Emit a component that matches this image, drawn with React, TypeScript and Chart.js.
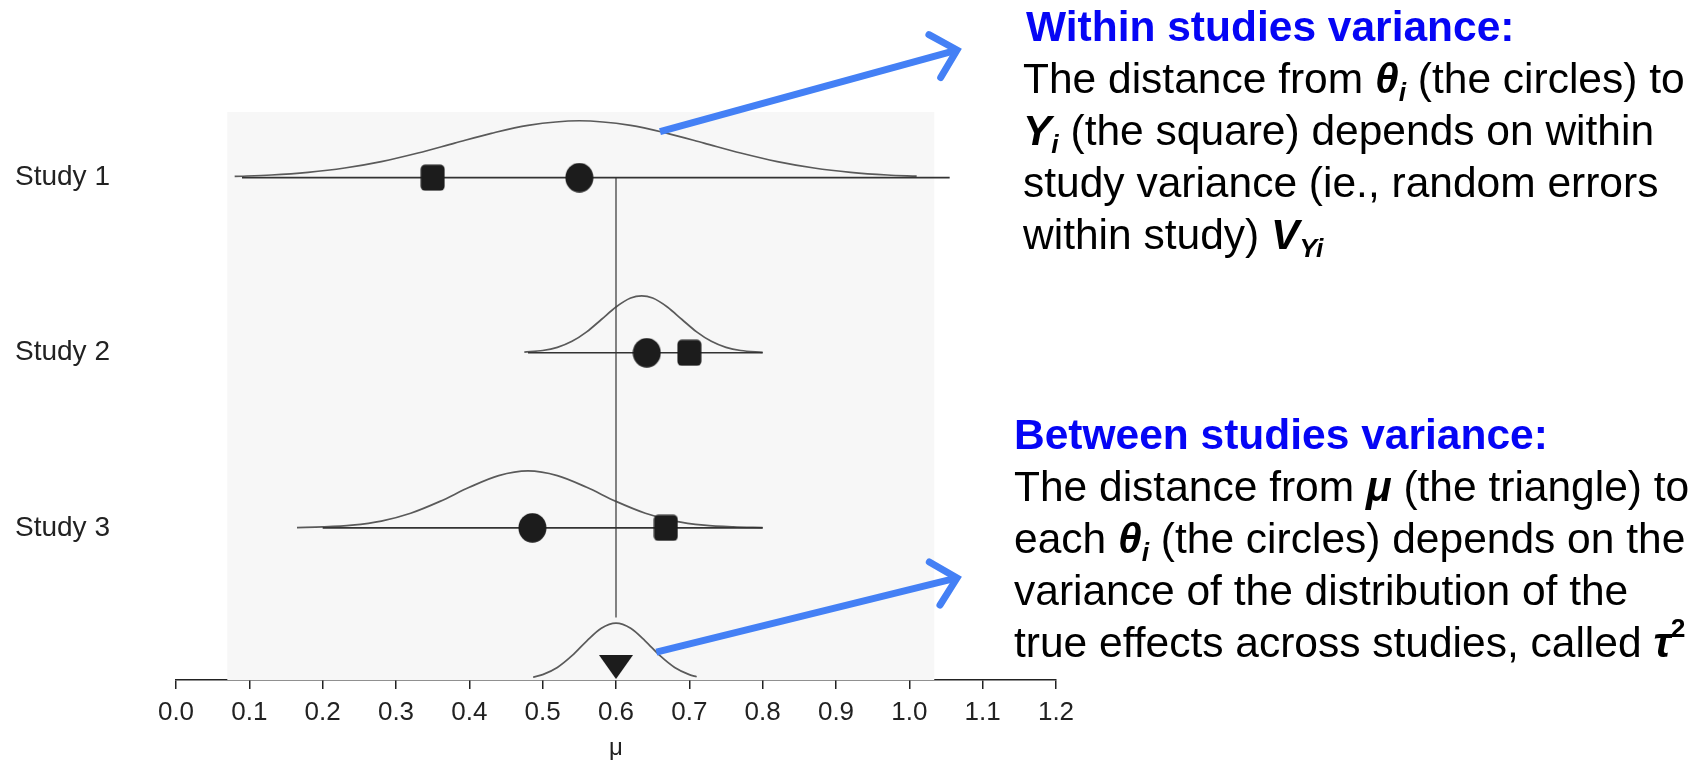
import React, { useEffect, useRef } from "react";
import { Chart, registerables } from "chart.js";

Chart.register(...registerables);

// ---------- data ----------
const studyLabels = ["Study 1", "Study 2", "Study 3"];
const studyRows = [2, 1, 0]; // row position of each study (y units)
const thetaValues = [0.55, 0.642, 0.486]; // circles (true study effects)
const yValues = [0.35, 0.70, 0.668]; // squares (observed effects)
const lineLo = [0.09, 0.48, 0.2];
const lineHi = [1.055, 0.8, 0.8];
const muValue = 0.6; // triangle

const xTicks = [0, 0.1, 0.2, 0.3, 0.4, 0.5, 0.6, 0.7, 0.8, 0.9, 1.0, 1.1, 1.2];

// density curves (x, relative height)
const curve1X = [0.08, 0.13, 0.18, 0.23, 0.28, 0.33, 0.38, 0.43, 0.48, 0.55, 0.62, 0.67, 0.72, 0.77, 0.82, 0.87, 0.92, 0.97, 1.01];
const curve1H = [0.022, 0.047, 0.094, 0.17, 0.283, 0.433, 0.607, 0.779, 0.919, 1, 0.919, 0.779, 0.607, 0.433, 0.283, 0.17, 0.094, 0.047, 0.026];
const curve2X = [0.475, 0.5, 0.52, 0.54, 0.56, 0.58, 0.6, 0.62, 0.635, 0.65, 0.67, 0.69, 0.71, 0.73, 0.75, 0.77, 0.8];
const curve2H = [0.011, 0.039, 0.095, 0.201, 0.367, 0.584, 0.804, 0.961, 1, 0.961, 0.804, 0.584, 0.367, 0.201, 0.095, 0.039, 0.008];
const curve3X = [0.165, 0.2, 0.24, 0.28, 0.32, 0.36, 0.4, 0.44, 0.48, 0.52, 0.56, 0.6, 0.64, 0.68, 0.72, 0.76, 0.8];
const curve3H = [0.005, 0.016, 0.047, 0.119, 0.257, 0.465, 0.712, 0.918, 1, 0.918, 0.712, 0.465, 0.257, 0.119, 0.047, 0.016, 0.004];
const curveMuX = [0.487, 0.5, 0.52, 0.54, 0.56, 0.58, 0.6, 0.62, 0.64, 0.66, 0.68, 0.7, 0.71];
const curveMuH = [0.049, 0.094, 0.22, 0.427, 0.685, 0.91, 1, 0.91, 0.685, 0.427, 0.22, 0.094, 0.057];

// ---------- layout constants ----------
const Y_MIN = -0.869;
const Y_MAX = 2.375;
const PEAK = 0.325;
const PANEL = [0.07, 1.034];
const INK = "#1c1c1c";
const ARROW = "#4480F5";
const FONT = "'Liberation Sans', Arial, Helvetica, sans-serif";

function makeSquare() {
  const c = document.createElement("canvas");
  c.width = 25;
  c.height = 27;
  const g = c.getContext("2d")!;
  g.fillStyle = INK;
  g.beginPath();
  (g as any).roundRect(0.5, 0.5, 24, 26, 4.5);
  g.fill();
  return c;
}
function makeCircle() {
  const c = document.createElement("canvas");
  c.width = 29;
  c.height = 30;
  const g = c.getContext("2d")!;
  g.fillStyle = INK;
  g.beginPath();
  g.ellipse(14.5, 15, 14, 14.8, 0, 0, Math.PI * 2);
  g.fill();
  return c;
}
function makeTriangle() {
  const c = document.createElement("canvas");
  c.width = 34;
  c.height = 24;
  const g = c.getContext("2d")!;
  g.fillStyle = INK;
  g.beginPath();
  g.moveTo(0, 0);
  g.lineTo(34, 0);
  g.lineTo(17, 24);
  g.closePath();
  g.fill();
  return c;
}

const curveData = (xs: number[], hs: number[], base: number) =>
  xs.map((x, i) => ({ x, y: base + hs[i] * PEAK }));

const arrowPlugin = {
  id: "arrows",
  beforeDatasetsDraw(chart: any) {
    const { ctx, chartArea, scales } = chart;
    const xs = scales.x;
    ctx.save();
    ctx.fillStyle = "#f7f7f7";
    const l = xs.getPixelForValue(PANEL[0]);
    const r = xs.getPixelForValue(PANEL[1]);
    ctx.fillRect(l, chartArea.top, r - l, chartArea.bottom - chartArea.top);
    ctx.restore();
  },
  afterDraw(chart: any) {
    const { ctx, scales } = chart;
    const xs = scales.x;
    const ys = scales.y;
    const arrows = [
      { from: [0.66, studyRows[0] + 0.81 * PEAK], to: [957, 50] },
      { from: [0.655, Y_MIN + 0.49 * PEAK], to: [957, 578] },
    ];
    ctx.save();
    ctx.strokeStyle = ARROW;
    ctx.lineWidth = 7;
    ctx.lineCap = "butt";
    ctx.lineJoin = "miter";
    for (const a of arrows) {
      const x0 = xs.getPixelForValue(a.from[0]);
      const y0 = ys.getPixelForValue(a.from[1]);
      const [x1, y1] = a.to;
      const len = Math.hypot(x1 - x0, y1 - y0);
      const ux = (x1 - x0) / len;
      const uy = (y1 - y0) / len;
      const bx = -ux;
      const by = -uy;
      const ang = (44 * Math.PI) / 180;
      const c = Math.cos(ang);
      const s = Math.sin(ang);
      const arm = 32;
      const a1 = [x1 + arm * (bx * c - by * s), y1 + arm * (bx * s + by * c)];
      const a2 = [x1 + arm * (bx * c + by * s), y1 + arm * (-bx * s + by * c)];
      ctx.beginPath();
      ctx.moveTo(x0, y0);
      ctx.lineTo(x1 - ux * 3, y1 - uy * 3);
      ctx.stroke();
      ctx.lineCap = "round";
      ctx.beginPath();
      ctx.moveTo(a1[0], a1[1]);
      ctx.lineTo(x1, y1);
      ctx.lineTo(a2[0], a2[1]);
      ctx.stroke();
      ctx.lineCap = "butt";
    }
    ctx.restore();
  },
};

export default function App() {
  const ref = useRef<HTMLCanvasElement>(null);

  useEffect(() => {
    const sq = makeSquare();
    const ci = makeCircle();
    const tri = makeTriangle();

    const datasets: any[] = [];
    const curves = [
      [curve1X, curve1H, studyRows[0]],
      [curve2X, curve2H, studyRows[1]],
      [curve3X, curve3H, studyRows[2]],
      [curveMuX, curveMuH, Y_MIN],
    ] as [number[], number[], number][];
    curves.forEach(([xs, hs, b]) =>
      datasets.push({
        data: curveData(xs, hs, b),
        showLine: true,
        borderColor: "#5a5a5a",
        borderWidth: 1.7,
        pointRadius: 0,
        cubicInterpolationMode: "monotone",
        order: 5,
      })
    );
    studyRows.forEach((row, i) =>
      datasets.push({
        data: [
          { x: lineLo[i], y: row },
          { x: lineHi[i], y: row },
        ],
        showLine: true,
        borderColor: "#333",
        borderWidth: 1.6,
        pointRadius: 0,
        order: 4,
      })
    );
    datasets.push({
      data: [
        { x: muValue, y: studyRows[0] },
        { x: muValue, y: Y_MIN + PEAK * 1.1 },
      ],
      showLine: true,
      borderColor: "#444",
      borderWidth: 1.3,
      pointRadius: 0,
      order: 4,
    });
    datasets.push({
      data: studyRows.map((row, i) => ({ x: thetaValues[i], y: row })),
      pointStyle: ci,
      pointRadius: 15,
      order: 1,
    });
    datasets.push({
      data: studyRows.map((row, i) => ({ x: yValues[i], y: row })),
      pointStyle: sq,
      pointRadius: 14,
      order: 1,
    });
    datasets.push({
      data: [{ x: muValue, y: Y_MIN + 0.074 }],
      pointStyle: tri,
      pointRadius: 17,
      order: 1,
    });

    const chart = new Chart(ref.current!, {
      type: "scatter",
      data: { datasets },
      plugins: [arrowPlugin],
      options: {
        animation: false,
        responsive: false,
        events: [],
        layout: { padding: { left: 15, right: 645, top: 112, bottom: 0.6 } },
        plugins: { legend: { display: false }, tooltip: { enabled: false } },
        scales: {
          x: {
            type: "linear",
            min: 0,
            max: 1.2,
            afterBuildTicks: (s: any) => {
              s.ticks = xTicks.map((v) => ({ value: v }));
            },
            border: { display: true, color: "#222", width: 1.5 },
            grid: { drawOnChartArea: false, drawTicks: true, tickLength: 9, color: "#222", lineWidth: 1.5 },
            ticks: {
              autoSkip: false,
              maxRotation: 0,
              padding: 8,
              color: "#222",
              font: { family: FONT, size: 26 },
              callback: (v: any) => Number(v).toFixed(1),
            },
            title: {
              display: true,
              text: "μ",
              color: "#222",
              font: { family: FONT, size: 24 },
              padding: { top: -2.6, bottom: 0 },
            },
          },
          y: {
            type: "linear",
            min: Y_MIN,
            max: Y_MAX,
            afterBuildTicks: (s: any) => {
              s.ticks = studyRows.map((v) => ({ value: v }));
            },
            afterFit: (s: any) => {
              s.width = 161;
            },
            border: { display: false },
            grid: { display: false },
            ticks: {
              crossAlign: "far",
              color: "#222",
              font: { family: FONT, size: 28 },
              callback: (v: any) => studyLabels[studyRows.indexOf(Number(v))] ?? "",
            },
          },
        },
      } as any,
    });
    return () => chart.destroy();
  }, []);

  const textBase: React.CSSProperties = {
    position: "absolute",
    fontFamily: FONT,
    fontSize: 42.5,
    lineHeight: "52px",
    whiteSpace: "nowrap",
    color: "#000",
  };
  const title: React.CSSProperties = { fontWeight: "bold", color: "#0505F5" };
  const sub: React.CSSProperties = { fontSize: "0.62em", verticalAlign: "-0.3em", lineHeight: 0 };
  const sup: React.CSSProperties = { fontSize: "0.62em", verticalAlign: "0.75em", lineHeight: 0 };

  return (
    <div style={{ position: "absolute", left: 0, top: 0, width: 1701, height: 763, background: "#fff", overflow: "hidden" }}>
      <canvas ref={ref} width={1701} height={763} style={{ position: "absolute", left: 0, top: 0 }} />
      <div style={{ ...textBase, left: 1023, top: 1 }}>
        <div style={{ ...title, marginLeft: 3 }}>Within studies variance:</div>
        <div>
          The distance from <b><i>θ<span style={sub}>i</span></i></b> (the circles) to
        </div>
        <div>
          <b><i>Y<span style={sub}>i</span></i></b> (the square) depends on within
        </div>
        <div>study variance (ie., random errors</div>
        <div>
          within study) <b><i>V<span style={sub}>Yi</span></i></b>
        </div>
      </div>
      <div style={{ ...textBase, left: 1014, top: 409 }}>
        <div style={title}>Between studies variance:</div>
        <div>
          The distance from <b><i>μ</i></b> (the triangle) to
        </div>
        <div>
          each <b><i>θ<span style={sub}>i</span></i></b> (the circles) depends on the
        </div>
        <div>variance of the distribution of the</div>
        <div>
          true effects across studies, called <b><i>τ</i><span style={sup}>2</span></b>
        </div>
      </div>
    </div>
  );
}
